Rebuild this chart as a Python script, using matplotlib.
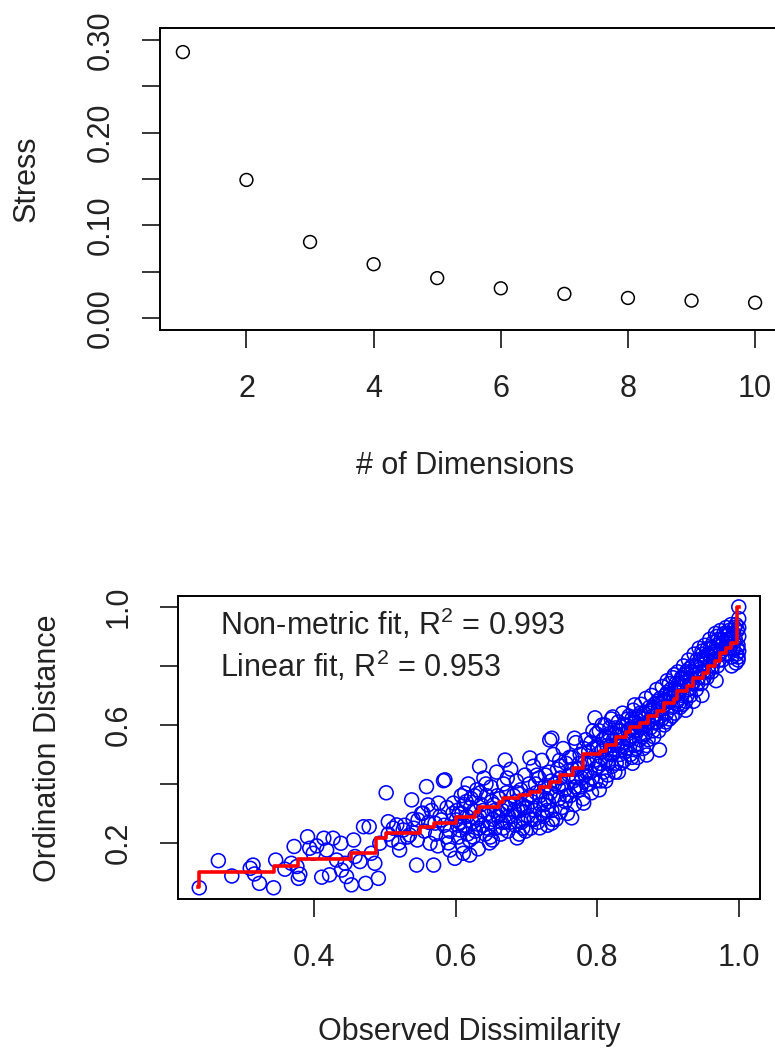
import numpy as np
import matplotlib.pyplot as plt

plt.rcParams['font.family'] = ['Liberation Sans', 'DejaVu Sans']
plt.rcParams['mathtext.fontset'] = 'custom'
plt.rcParams['mathtext.rm'] = 'Liberation Sans'

# scree plot: stress by number of dimensions
dims = [1, 2, 3, 4, 5, 6, 7, 8, 9, 10]
stress = [0.287, 0.149, 0.082, 0.058, 0.043, 0.032, 0.026, 0.0216, 0.0187, 0.0165]

# shepard plot, sparse left part
obs_left = [0.238, 0.265, 0.284, 0.310, 0.314, 0.323, 0.343, 0.346, 0.359, 0.372,
            0.376, 0.378, 0.391, 0.394, 0.399, 0.404, 0.411, 0.414, 0.418, 0.422,
            0.427, 0.432, 0.438, 0.439, 0.444, 0.446, 0.453, 0.456, 0.458, 0.465,
            0.470, 0.473, 0.478, 0.481, 0.486, 0.491, 0.493, 0.502, 0.505, 0.510,
            0.517, 0.521, 0.526, 0.535, 0.538, 0.545, 0.547, 0.554, 0.559, 0.561,
            0.564, 0.569, 0.571, 0.576, 0.580, 0.583, 0.587, 0.592, 0.597, 0.601,
            0.606, 0.611, 0.613, 0.505, 0.512, 0.520, 0.528, 0.532, 0.540, 0.552,
            0.556, 0.562, 0.566, 0.572, 0.578, 0.584, 0.588, 0.592, 0.596, 0.541,
            0.546, 0.575, 0.590, 0.316, 0.368, 0.380]
ord_left = [0.048, 0.140, 0.088, 0.114, 0.125, 0.063, 0.048, 0.142, 0.111, 0.188,
            0.120, 0.080, 0.221, 0.182, 0.165, 0.190, 0.084, 0.216, 0.176, 0.092,
            0.216, 0.142, 0.199, 0.108, 0.131, 0.086, 0.058, 0.210, 0.154, 0.137,
            0.255, 0.063, 0.255, 0.165, 0.131, 0.080, 0.199, 0.370, 0.272, 0.210,
            0.261, 0.176, 0.244, 0.227, 0.346, 0.125, 0.278, 0.301, 0.391, 0.329,
            0.199, 0.125, 0.267, 0.335, 0.278, 0.411, 0.221, 0.176, 0.335, 0.278,
            0.244, 0.165, 0.369, 0.230, 0.250, 0.200, 0.260, 0.220, 0.280, 0.300,
            0.240, 0.270, 0.310, 0.230, 0.290, 0.260, 0.320, 0.240, 0.300, 0.250,
            0.210, 0.190, 0.200, 0.095, 0.131, 0.094]

# middle part, 0.60 - 0.80
obs_mid = [0.602, 0.604, 0.606, 0.608, 0.610, 0.612, 0.614, 0.616, 0.618, 0.620,
           0.622, 0.624, 0.626, 0.628, 0.630, 0.632, 0.634, 0.636, 0.638, 0.640,
           0.642, 0.644, 0.646, 0.648, 0.650, 0.652, 0.654, 0.656, 0.658, 0.660,
           0.662, 0.664, 0.666, 0.668, 0.670, 0.672, 0.674, 0.676, 0.678, 0.680,
           0.682, 0.684, 0.686, 0.688, 0.690, 0.692, 0.694, 0.696, 0.698, 0.700,
           0.605, 0.615, 0.625, 0.635, 0.645, 0.655, 0.665, 0.675, 0.685, 0.695,
           0.612, 0.631, 0.651, 0.671, 0.691,
           0.702, 0.704, 0.706, 0.708, 0.710, 0.712, 0.714, 0.716, 0.718, 0.720,
           0.722, 0.724, 0.726, 0.728, 0.730, 0.732, 0.734, 0.736, 0.738, 0.740,
           0.742, 0.744, 0.746, 0.748, 0.750, 0.752, 0.754, 0.756, 0.758, 0.760,
           0.762, 0.764, 0.766, 0.768, 0.770, 0.772, 0.774, 0.776, 0.778, 0.780,
           0.782, 0.784, 0.786, 0.788, 0.790, 0.792, 0.794, 0.796, 0.798, 0.800,
           0.705, 0.715, 0.725, 0.735, 0.745, 0.755, 0.765, 0.775, 0.785, 0.795,
           0.711, 0.729, 0.749, 0.769, 0.789]
ord_mid = [0.31, 0.22, 0.27, 0.36, 0.19, 0.33, 0.25, 0.29, 0.40, 0.21,
           0.35, 0.27, 0.31, 0.24, 0.38, 0.18, 0.29, 0.33, 0.26, 0.42,
           0.23, 0.36, 0.30, 0.27, 0.39, 0.21, 0.33, 0.25, 0.44, 0.29,
           0.35, 0.23, 0.31, 0.40, 0.27, 0.37, 0.24, 0.33, 0.45, 0.29,
           0.36, 0.26, 0.41, 0.31, 0.23, 0.38, 0.33, 0.28, 0.43, 0.35,
           0.30, 0.34, 0.22, 0.37, 0.25, 0.31, 0.27, 0.29, 0.34, 0.25,
           0.26, 0.28, 0.34, 0.32, 0.31,
           0.29, 0.40, 0.25, 0.34, 0.46, 0.31, 0.37, 0.27, 0.42, 0.33,
           0.48, 0.29, 0.39, 0.35, 0.26, 0.44, 0.37, 0.31, 0.50, 0.40,
           0.28, 0.45, 0.35, 0.42, 0.32, 0.52, 0.38, 0.47, 0.30, 0.43,
           0.36, 0.49, 0.41, 0.33, 0.54, 0.45, 0.38, 0.50, 0.42, 0.35,
           0.47, 0.55, 0.40, 0.51, 0.44, 0.37, 0.58, 0.48, 0.41, 0.53,
           0.36, 0.43, 0.33, 0.41, 0.39, 0.34, 0.45, 0.47, 0.44, 0.52,
           0.28, 0.31, 0.46, 0.39, 0.40]

# dense right part, 0.80 - 1.00
obs_right = [0.802, 0.803, 0.805, 0.806, 0.808, 0.809, 0.811, 0.812, 0.814, 0.815,
             0.817, 0.818, 0.820, 0.821, 0.823, 0.824, 0.826, 0.827, 0.829, 0.830,
             0.832, 0.833, 0.835, 0.836, 0.838, 0.839, 0.841, 0.842, 0.844, 0.845,
             0.847, 0.848, 0.850, 0.851, 0.853, 0.854, 0.856, 0.857, 0.859, 0.860,
             0.862, 0.863, 0.865, 0.866, 0.868, 0.869, 0.871, 0.872, 0.874, 0.875,
             0.877, 0.878, 0.880, 0.881, 0.883, 0.884, 0.886, 0.887, 0.889, 0.890,
             0.892, 0.893, 0.895, 0.896, 0.898, 0.899,
             0.807, 0.813, 0.819, 0.825, 0.831, 0.837, 0.843, 0.849, 0.855, 0.861,
             0.867, 0.873, 0.879, 0.885, 0.891, 0.897,
             0.901, 0.902, 0.904, 0.905, 0.907, 0.908, 0.910, 0.911, 0.913, 0.914,
             0.916, 0.917, 0.919, 0.920, 0.922, 0.923, 0.925, 0.926, 0.928, 0.929,
             0.931, 0.932, 0.934, 0.935, 0.937, 0.938, 0.940, 0.941, 0.943, 0.944,
             0.946, 0.947, 0.949, 0.950, 0.952, 0.953, 0.955, 0.956, 0.958, 0.959,
             0.961, 0.962, 0.964, 0.965, 0.967, 0.968, 0.970, 0.971, 0.973, 0.974,
             0.976, 0.977, 0.979, 0.980, 0.982, 0.983, 0.985, 0.986, 0.988, 0.989,
             0.991, 0.992, 0.994, 0.995, 0.997, 0.998, 0.999, 1.000, 1.000, 1.000,
             0.903, 0.909, 0.915, 0.921, 0.927, 0.933, 0.939, 0.945, 0.951, 0.957,
             0.963, 0.969, 0.975, 0.981, 0.987, 0.993, 0.996, 0.999,
             0.925, 0.948, 0.968, 0.990, 0.999]
ord_right = [0.46, 0.58, 0.41, 0.51, 0.55, 0.44, 0.60, 0.48, 0.53, 0.43,
             0.57, 0.50, 0.62, 0.46, 0.55, 0.52, 0.59, 0.47, 0.56, 0.61,
             0.50, 0.58, 0.53, 0.64, 0.48, 0.57, 0.60, 0.52, 0.55, 0.63,
             0.50, 0.59, 0.56, 0.65, 0.53, 0.61, 0.58, 0.49, 0.63, 0.55,
             0.67, 0.60, 0.52, 0.64, 0.57, 0.69, 0.61, 0.55, 0.66, 0.59,
             0.70, 0.63, 0.56, 0.67, 0.61, 0.72, 0.65, 0.58, 0.69, 0.63,
             0.73, 0.66, 0.60, 0.70, 0.64, 0.75,
             0.49, 0.56, 0.53, 0.57, 0.54, 0.60, 0.58, 0.62, 0.62, 0.59,
             0.62, 0.64, 0.66, 0.68, 0.67, 0.68,
             0.68, 0.62, 0.72, 0.66, 0.76, 0.70, 0.64, 0.74, 0.68, 0.78,
             0.71, 0.66, 0.76, 0.70, 0.80, 0.73, 0.68, 0.78, 0.72, 0.82,
             0.75, 0.70, 0.80, 0.74, 0.84, 0.77, 0.72, 0.82, 0.76, 0.86,
             0.79, 0.74, 0.84, 0.78, 0.87, 0.81, 0.76, 0.86, 0.80, 0.89,
             0.83, 0.78, 0.88, 0.82, 0.91, 0.85, 0.80, 0.89, 0.84, 0.92,
             0.87, 0.82, 0.91, 0.86, 0.93, 0.89, 0.84, 0.92, 0.88, 0.94,
             0.90, 0.86, 0.93, 0.89, 0.84, 0.92, 0.87, 0.96, 0.90, 1.00,
             0.70, 0.72, 0.74, 0.76, 0.75, 0.78, 0.80, 0.82, 0.83, 0.84,
             0.86, 0.87, 0.89, 0.90, 0.91, 0.91, 0.81, 0.82,
             0.65, 0.70, 0.75, 0.80, 0.83]

# extra points filling the band
obs_fill = [0.603, 0.609, 0.617, 0.621, 0.627, 0.633, 0.639, 0.643, 0.649, 0.653,
            0.659, 0.663, 0.667, 0.673, 0.677, 0.683, 0.687, 0.693, 0.697, 0.699,
            0.701, 0.707, 0.713, 0.719, 0.723, 0.727, 0.731, 0.737, 0.741, 0.747,
            0.751, 0.757, 0.761, 0.767, 0.771, 0.777, 0.781, 0.783, 0.787, 0.791,
            0.793, 0.797, 0.799,
            0.801, 0.804, 0.807, 0.810, 0.812, 0.816, 0.818, 0.822, 0.825, 0.828,
            0.831, 0.834, 0.837, 0.840, 0.843, 0.846, 0.849, 0.852, 0.855, 0.858,
            0.861, 0.864, 0.867, 0.870, 0.873, 0.876, 0.879, 0.882, 0.885, 0.888,
            0.891, 0.894, 0.897, 0.899,
            0.902, 0.905, 0.906, 0.909, 0.912, 0.915, 0.918, 0.921, 0.924, 0.927,
            0.930, 0.933, 0.936, 0.939, 0.942, 0.945, 0.948, 0.951, 0.954, 0.957,
            0.960, 0.963, 0.966, 0.969, 0.972, 0.975, 0.978, 0.981, 0.984, 0.987,
            0.990, 0.993, 0.996, 0.998, 1.000, 1.000]
ord_fill = [0.26, 0.30, 0.23, 0.32, 0.36, 0.25, 0.31, 0.40, 0.22, 0.28,
            0.36, 0.30, 0.25, 0.42, 0.27, 0.31, 0.37, 0.27, 0.32, 0.24,
            0.32, 0.28, 0.40, 0.36, 0.30, 0.43, 0.34, 0.28, 0.36, 0.48,
            0.40, 0.36, 0.49, 0.38, 0.42, 0.39, 0.52, 0.43, 0.47, 0.54,
            0.42, 0.45, 0.57,
            0.52, 0.47, 0.60, 0.52, 0.41, 0.47, 0.59, 0.50, 0.44, 0.53,
            0.58, 0.47, 0.54, 0.51, 0.62, 0.55, 0.49, 0.58, 0.52, 0.60,
            0.64, 0.56, 0.60, 0.53, 0.61, 0.65, 0.58, 0.63, 0.61, 0.67,
            0.62, 0.68, 0.61, 0.71,
            0.74, 0.69, 0.63, 0.77, 0.71, 0.67, 0.73, 0.67, 0.77, 0.70,
            0.79, 0.74, 0.68, 0.77, 0.74, 0.78, 0.85, 0.76, 0.83, 0.78,
            0.86, 0.80, 0.84, 0.90, 0.82, 0.85, 0.88, 0.84, 0.91, 0.86,
            0.83, 0.88, 0.94, 0.86, 0.93, 0.85]

# points off the band
obs_outl = [0.634, 0.670, 0.736, 0.768, 0.797, 0.822, 0.853, 0.585, 0.733, 0.705,
            0.620, 0.648, 0.687, 0.719, 0.599, 0.736, 0.781, 0.803, 0.764, 0.748,
            0.830, 0.850, 0.870, 0.888]
ord_outl = [0.459, 0.481, 0.555, 0.555, 0.624, 0.627, 0.668, 0.414, 0.549, 0.488,
            0.159, 0.200, 0.217, 0.251, 0.148, 0.267, 0.335, 0.380, 0.285, 0.305,
            0.440, 0.470, 0.498, 0.515]

# monotone (non-metric) fit, step breakpoints
fit_x = [0.236, 0.238, 0.344, 0.378, 0.452, 0.488, 0.502, 0.550, 0.569, 0.600,
         0.628, 0.633, 0.662, 0.667, 0.690, 0.705, 0.719, 0.733, 0.748, 0.766,
         0.780, 0.804, 0.813, 0.827, 0.841, 0.846, 0.860, 0.872, 0.885, 0.894,
         0.908, 0.913, 0.927, 0.936, 0.950, 0.957, 0.966, 0.973, 0.982, 0.989,
         0.997, 1.000]
fit_y = [0.051, 0.103, 0.122, 0.144, 0.165, 0.216, 0.233, 0.253, 0.267, 0.289,
         0.306, 0.323, 0.340, 0.352, 0.363, 0.374, 0.391, 0.408, 0.430, 0.453,
         0.500, 0.510, 0.532, 0.560, 0.577, 0.594, 0.608, 0.630, 0.647, 0.676,
         0.687, 0.715, 0.732, 0.760, 0.777, 0.800, 0.817, 0.845, 0.862, 0.879,
         1.000, 1.000]

obs_diss = np.concatenate([obs_left, obs_mid, obs_right, obs_fill, obs_outl])
ord_dist = np.concatenate([ord_left, ord_mid, ord_right, ord_fill, ord_outl])

FS = 22
fig = plt.figure(figsize=(7.75, 10.55), dpi=100)


def r_style(ax):
    for s in ax.spines.values():
        s.set_linewidth(1.4)
    ax.tick_params(direction='out', length=13, width=1.1, labelsize=FS,
                   colors='black', labelcolor='#222222')
    ax.tick_params(axis='x', pad=19)
    ax.tick_params(axis='y', pad=19)
    for lab in ax.get_yticklabels():
        lab.set_rotation(90)
        lab.set_va('center')
        lab.set_ha('right')


# top: scree plot
ax1 = fig.add_axes([160 / 775, 1 - 330 / 1055, 618 / 775, 302 / 1055])
ax1.scatter(dims, stress, s=85, facecolors='none', edgecolors='black', linewidths=1.1)
ax1.set_xlim(0.64, 10.36)
ax1.set_ylim(-0.013, 0.313)
ax1.set_xticks([2, 4, 6, 8, 10])
ax1.set_yticks([0, 0.05, 0.10, 0.15, 0.20, 0.25, 0.30])
ax1.set_yticklabels(['0.00', '', '0.10', '', '0.20', '', '0.30'])
r_style(ax1)
fig.text(465 / 775, 1 - 466 / 1055, '# of Dimensions', fontsize=FS,
         ha='center', va='center', color='#222222')
fig.text(27 / 775, 1 - 179 / 1055, 'Stress', fontsize=FS, rotation=90,
         ha='center', va='center', color='#222222')

# bottom: shepard plot
ax2 = fig.add_axes([178 / 775, 1 - 899 / 1055, 582 / 775, 303 / 1055])
ax2.scatter(obs_diss, ord_dist, s=100, facecolors='none', edgecolors='#0000ff',
            linewidths=1.15)
ax2.step(fit_x, fit_y, where='post', color='#ff0000', lw=2.6)
ax2.set_xlim(0.208, 1.030)
ax2.set_ylim(0.010, 1.037)
ax2.set_xticks([0.4, 0.6, 0.8, 1.0])
ax2.set_xticklabels(['0.4', '0.6', '0.8', '1.0'])
ax2.set_yticks([0.2, 0.4, 0.6, 0.8, 1.0])
ax2.set_yticklabels(['0.2', '', '0.6', '', '1.0'])
r_style(ax2)
ax2.text(0.072, 0.871, r'Non-metric fit, $\mathregular{R^2}$ = 0.993',
         transform=ax2.transAxes, fontsize=FS, va='baseline', color='#222222')
ax2.text(0.072, 0.733, r'Linear fit, $\mathregular{R^2}$ = 0.953',
         transform=ax2.transAxes, fontsize=FS, va='baseline', color='#222222')
fig.text(469 / 775, 1 - 1032 / 1055, 'Observed Dissimilarity', fontsize=FS,
         ha='center', va='center', color='#222222')
fig.text(48 / 775, 1 - 748 / 1055, 'Ordination Distance', fontsize=FS,
         rotation=90, ha='center', va='center', color='#222222')

fig.savefig('out.png', dpi=100)
